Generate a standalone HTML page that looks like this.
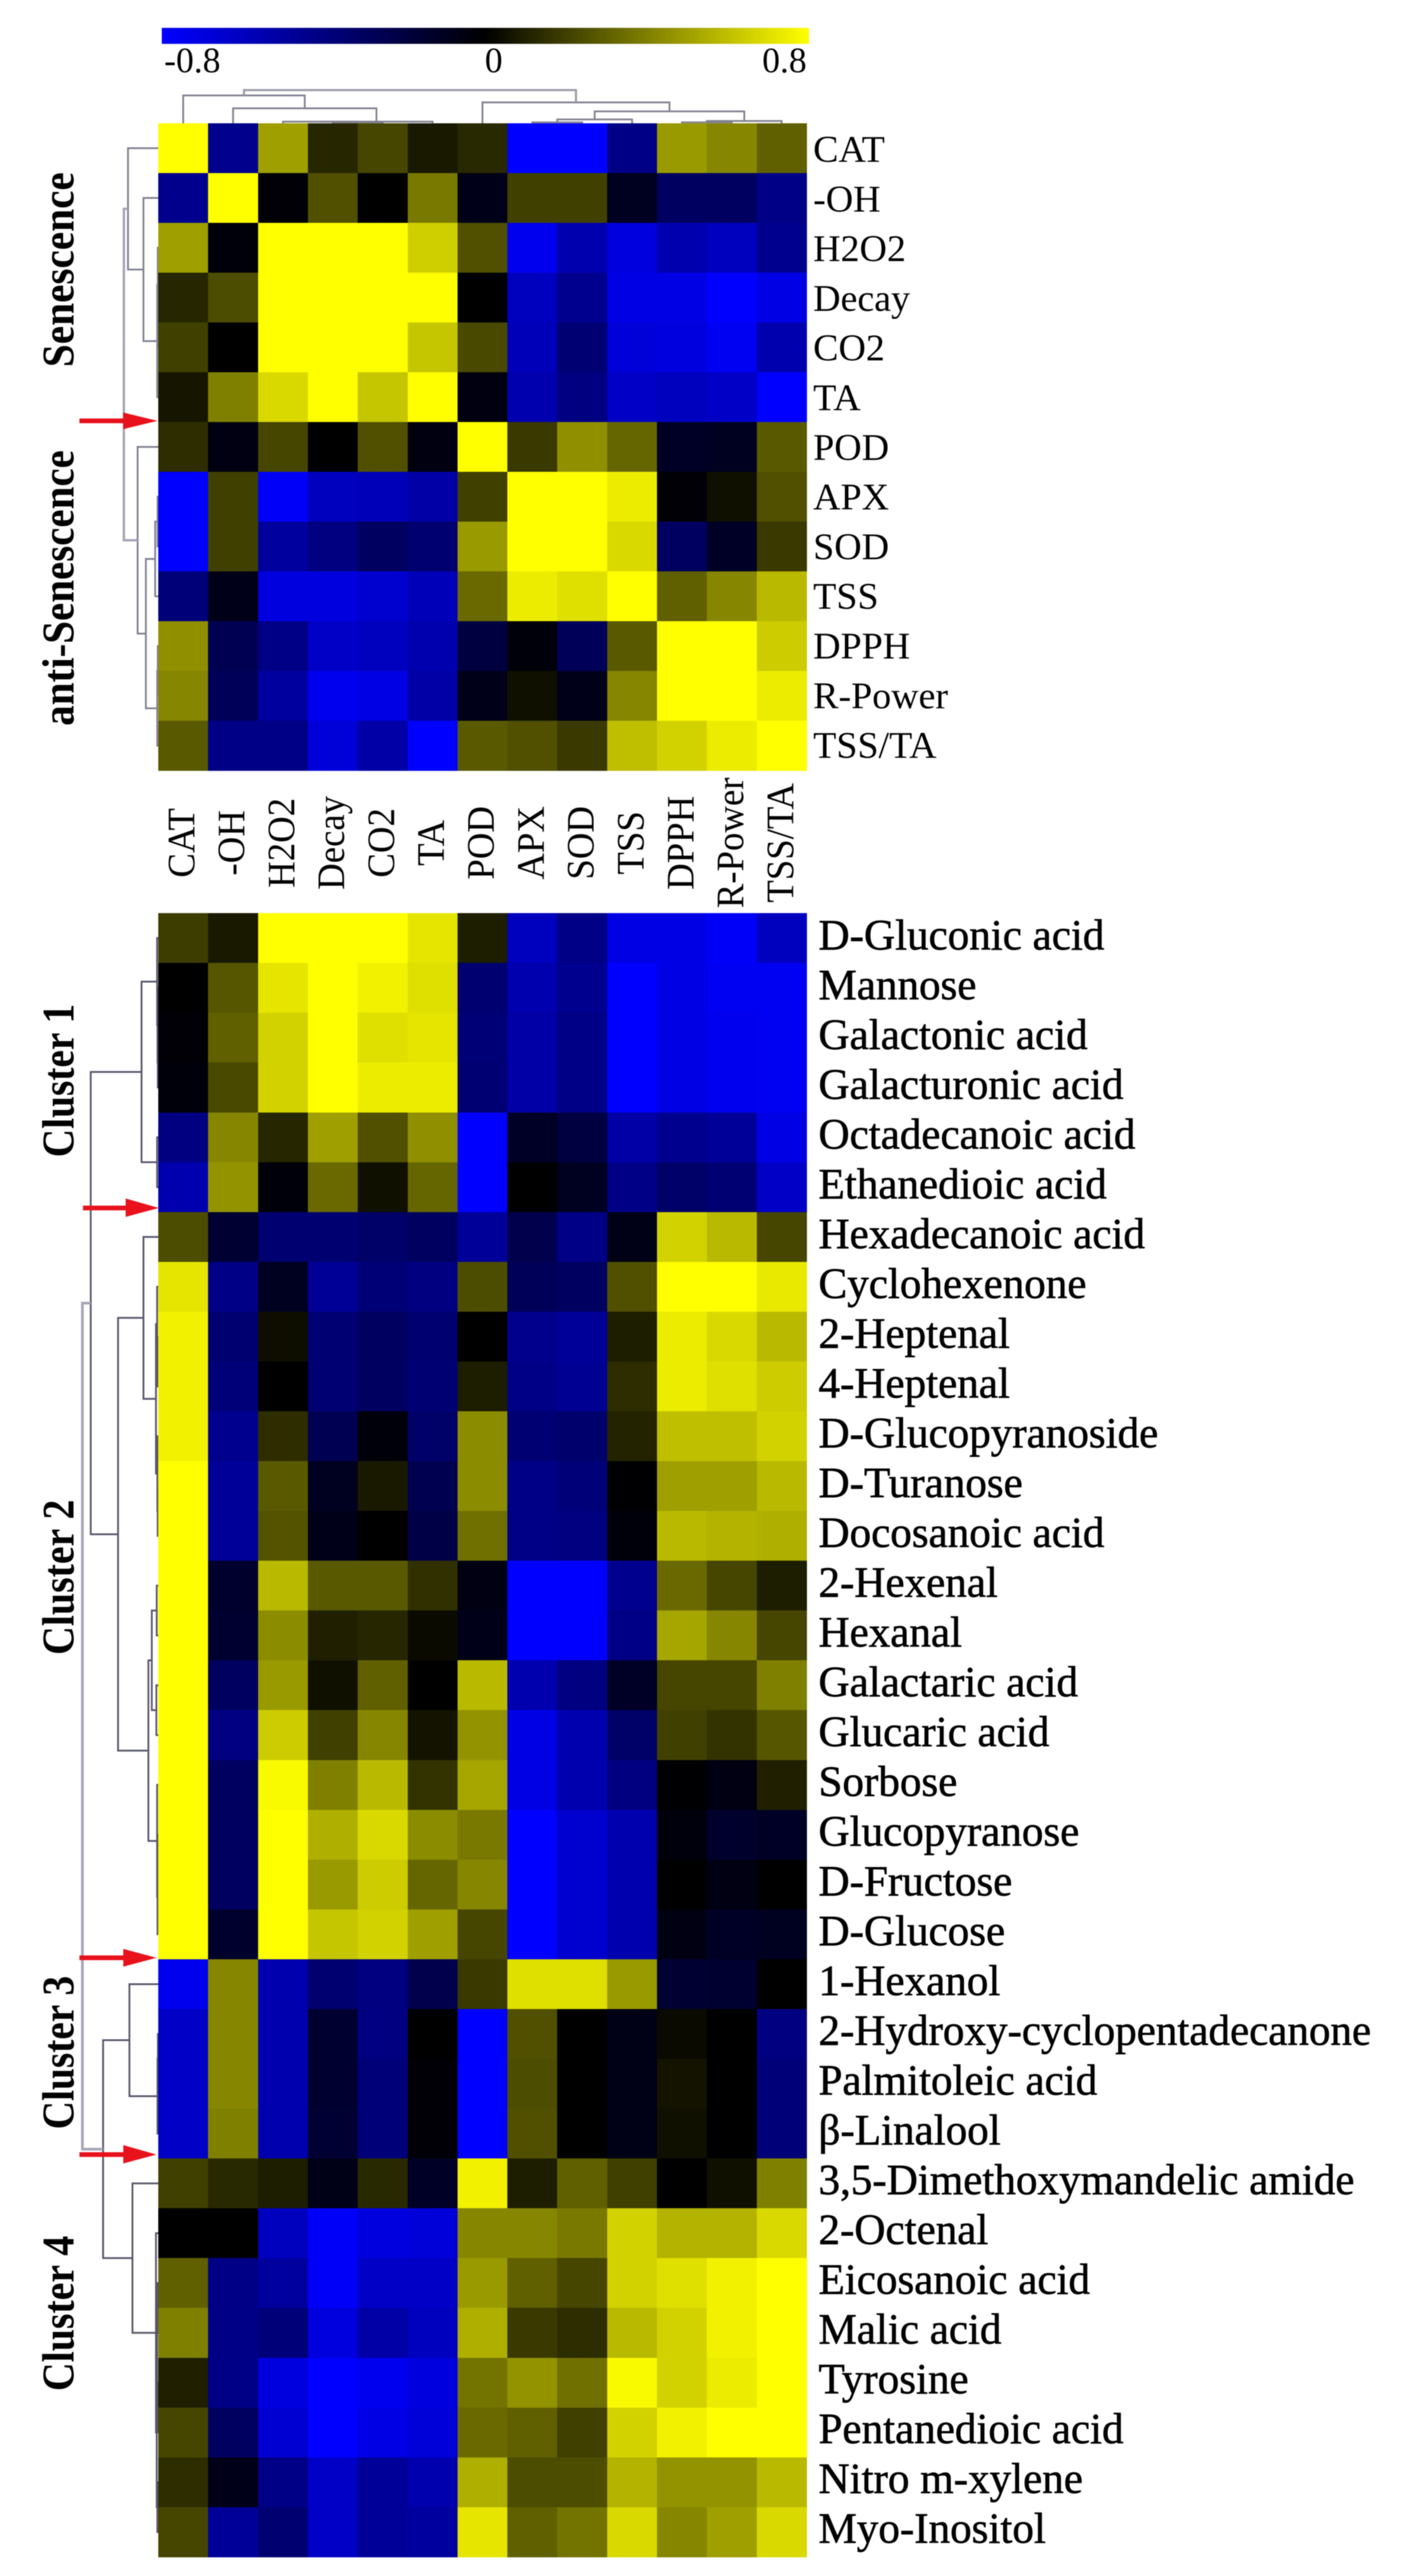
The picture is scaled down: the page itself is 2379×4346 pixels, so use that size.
<!DOCTYPE html>
<html lang="en">
<head>
<meta charset="utf-8">
<title>Correlation heatmaps</title>
<style>
html,body{margin:0;padding:0;background:#fff;}
#chart{display:block;width:2379px;height:4346px;filter:blur(0.9px);}
text{font-family:"Liberation Serif","DejaVu Serif",serif;fill:#000;}
</style>
</head>
<body>
<svg id="chart" xmlns="http://www.w3.org/2000/svg" width="2379" height="4346" viewBox="0 0 2379 4346">
  <defs>
    <linearGradient id="cbar" x1="0" x2="1" y1="0" y2="0">
      <stop offset="0" stop-color="#0000ff"/>
      <stop offset="0.5" stop-color="#000000"/>
      <stop offset="1" stop-color="#ffff00"/>
    </linearGradient>
  </defs>
  <rect width="2379" height="4346" fill="#fff"/>
  <rect x="273" y="47" width="1092" height="27" fill="url(#cbar)"/>
  <g id="cbar-labels" font-size="60"></g>
  <g id="top-col-tree"></g>
  <g id="top-row-tree"></g>
  <g id="low-row-tree"></g>
  <g id="top-cells"></g>
  <g id="low-cells"></g>
  <g id="top-row-labels" font-size="64"></g>
  <g id="col-labels" font-size="66"></g>
  <g id="low-row-labels" font-size="72.7" stroke="#000" stroke-width="0.9"></g>

  <g font-weight="bold" font-size="76">
    <text text-anchor="middle" lengthAdjust="spacingAndGlyphs" textLength="329" transform="translate(124 455) rotate(-90)">Senescence</text>
    <text text-anchor="middle" lengthAdjust="spacingAndGlyphs" textLength="465" transform="translate(124 992) rotate(-90)">anti-Senescence</text>
    <text text-anchor="middle" lengthAdjust="spacingAndGlyphs" textLength="259" transform="translate(124 1823) rotate(-90)">Cluster 1</text>
    <text text-anchor="middle" lengthAdjust="spacingAndGlyphs" textLength="262" transform="translate(124 2661) rotate(-90)">Cluster 2</text>
    <text text-anchor="middle" lengthAdjust="spacingAndGlyphs" textLength="259" transform="translate(124 3463) rotate(-90)">Cluster 3</text>
    <text text-anchor="middle" lengthAdjust="spacingAndGlyphs" textLength="262" transform="translate(124 3903) rotate(-90)">Cluster 4</text>
  </g>

  <g fill="#e8121c">
    <rect x="134" y="706" width="76" height="8"/><polygon points="208,696 266,710 208,724"/>
  </g>
  <g fill="#e8121c">
    <rect x="140" y="2034" width="74" height="8"/><polygon points="212,2022 268,2038 212,2053"/>
  </g>
  <g fill="#e8121c">
    <rect x="134" y="3299" width="76" height="8"/><polygon points="208,3288 264,3303 208,3318"/>
  </g>
  <g fill="#e8121c">
    <rect x="134" y="3631" width="76" height="8"/><polygon points="208,3619 264,3635 208,3650"/>
  </g>
</svg>

<script>
var scaleTicks = ["-0.8", "0", "0.8"];
var scaleTickValues = [-0.8, 0, 0.8];

var traits = ["CAT","-OH","H2O2","Decay","CO2","TA","POD","APX","SOD","TSS","DPPH","R-Power","TSS/TA"];

var compounds = ["D-Gluconic acid","Mannose","Galactonic acid","Galacturonic acid","Octadecanoic acid","Ethanedioic acid","Hexadecanoic acid","Cyclohexenone","2-Heptenal","4-Heptenal","D-Glucopyranoside","D-Turanose","Docosanoic acid","2-Hexenal","Hexanal","Galactaric acid","Glucaric acid","Sorbose","Glucopyranose","D-Fructose","D-Glucose","1-Hexanol","2-Hydroxy-cyclopentadecanone","Palmitoleic acid","β-Linalool","3,5-Dimethoxymandelic amide","2-Octenal","Eicosanoic acid","Malic acid","Tyrosine","Pentanedioic acid","Nitro m-xylene","Myo-Inositol"];

var topValues = [
[1,-.44,.50,.12,.22,.08,.13,-.8,-.8,-.42,.48,.42,.30],
[-.44,1,-.02,.25,0,.38,-.08,.2,.2,-.1,-.3,-.3,-.42],
[.5,-.03,1,1,1,.65,.25,-.75,-.55,-.7,-.55,-.6,-.45],
[.12,.24,1,1,1,1,0,-.6,-.45,-.72,-.72,-.8,-.72],
[.2,0,1,1,1,.62,.23,-.58,-.36,-.68,-.7,-.76,-.55],
[.07,.4,.68,1,.62,1,-.05,-.55,-.4,-.62,-.6,-.62,-.8],
[.14,-.06,.22,0,.25,-.05,1,.18,.45,.32,-.12,-.1,.28],
[-.8,.2,-.78,-.6,-.58,-.52,.2,1,1,.74,-.02,.05,.25],
[-.8,.2,-.5,-.4,-.3,-.35,.48,1,1,.68,-.3,-.12,.18],
[-.38,-.08,-.7,-.7,-.65,-.58,.33,.74,.7,1,.3,.42,.58],
[.45,-.26,-.42,-.62,-.6,-.55,-.2,-.03,-.28,.28,1,1,.64],
[.42,-.28,-.5,-.75,-.72,-.52,-.08,.05,-.08,.42,1,1,.74],
[.28,-.42,-.42,-.68,-.52,-.8,.28,.25,.18,.6,.66,.74,1]
];

var lowerValues = [
[.19,.08,.8,.8,.8,.72,.09,-.6,-.42,-.72,-.72,-.78,-.6],
[0,.27,.72,.8,.76,.7,-.35,-.55,-.45,-.8,-.72,-.76,-.76],
[-.02,.3,.66,.8,.7,.72,-.37,-.52,-.42,-.8,-.72,-.75,-.76],
[-.03,.23,.66,.8,.74,.74,-.36,-.52,-.42,-.8,-.72,-.75,-.76],
[-.4,.42,.12,.5,.25,.45,-.8,-.12,-.2,-.52,-.45,-.48,-.72],
[-.55,.46,-.03,.33,.05,.32,-.8,0,-.1,-.42,-.33,-.36,-.62],
[.24,-.16,-.35,-.35,-.33,-.3,-.48,-.24,-.42,-.07,.66,.58,.22],
[.72,-.42,-.1,-.47,-.37,-.4,.24,-.28,-.3,.25,.8,.8,.73],
[.76,-.35,.04,-.36,-.3,-.35,0,-.44,-.48,.09,.74,.68,.58],
[.76,-.38,0,-.36,-.3,-.36,.09,-.42,-.46,.14,.74,.7,.64],
[.76,-.45,.14,-.26,-.03,-.33,.44,-.36,-.34,.11,.6,.6,.66],
[.8,-.48,.28,-.1,.08,-.25,.44,-.42,-.38,-.01,.5,.5,.58],
[.8,-.48,.26,-.08,0,-.22,.35,-.42,-.4,-.03,.58,.56,.55],
[.8,-.14,.58,.28,.28,.15,-.06,-.8,-.8,-.45,.33,.22,.09],
[.8,-.15,.44,.1,.12,.03,-.08,-.8,-.8,-.42,.52,.42,.22],
[.8,-.3,.48,.05,.3,0,.58,-.55,-.4,-.12,.22,.22,.4],
[.8,-.4,.64,.2,.42,.06,.46,-.72,-.55,-.33,.2,.16,.27],
[.8,-.3,.78,.4,.58,.16,.52,-.72,-.55,-.4,-.01,-.06,.1],
[.8,-.3,.8,.55,.68,.44,.38,-.8,-.65,-.55,-.04,-.14,-.12],
[.8,-.3,.8,.48,.64,.32,.42,-.8,-.65,-.55,0,-.06,0],
[.8,-.14,.8,.62,.66,.5,.22,-.8,-.65,-.55,-.06,-.12,-.1],
[-.75,.42,-.55,-.35,-.4,-.24,.18,.7,.7,.48,-.16,-.15,0],
[-.62,.42,-.55,-.15,-.4,0,-.8,.25,0,-.07,.03,0,-.4],
[-.62,.42,-.55,-.15,-.38,-.02,-.8,.24,0,-.07,.06,0,-.38],
[-.62,.4,-.55,-.16,-.38,-.02,-.8,.25,0,-.07,.05,0,-.38],
[.2,.13,.09,-.07,.13,-.12,.76,.09,.3,.2,0,.05,.4],
[0,0,-.6,-.78,-.7,-.68,.42,.42,.38,.66,.56,.56,.68],
[.3,-.42,-.5,-.78,-.62,-.62,.48,.3,.22,.66,.7,.76,.8],
[.4,-.42,-.38,-.7,-.52,-.6,.55,.18,.14,.58,.66,.76,.8],
[.1,-.42,-.7,-.8,-.75,-.7,.36,.46,.35,.78,.66,.74,.8],
[.22,-.3,-.66,-.8,-.72,-.68,.33,.3,.2,.66,.76,.8,.8],
[.14,-.08,-.42,-.62,-.48,-.55,.55,.24,.24,.56,.46,.46,.58],
[.22,-.48,-.35,-.62,-.48,-.5,.72,.3,.36,.68,.42,.5,.68]
];

/* Dendrogram topology: child < 100 is a leaf index; child >= 100 refers to merge (child - 100). */
var topMerges = [[3,4],[2,100],[101,5],[1,102],[0,103],[7,8],[105,9],[10,11],[107,12],[106,108],[6,109],[104,110]];
var topRowDistances = [.01,.015,.03,.43,.88,.02,.09,.015,.03,.36,.6,1];
var topColDistances = [.03,.05,.05,.45,.84,.03,.115,.03,.07,.36,.63,1];

var lowerMerges = [[2,3],[1,100],[0,101],[4,5],[102,103],[8,9],[7,105],[11,12],[10,107],[106,108],[6,109],[13,14],[15,16],[111,112],[18,19],[114,20],[17,115],[113,116],[110,117],[104,118],[22,23],[120,24],[21,121],[27,28],[29,30],[123,124],[31,32],[125,126],[26,127],[25,128],[122,129],[119,130]];
var lowerDistances = [.006,.01,.015,.015,.22,.01,.015,.008,.012,.03,.195,.02,.025,.085,.006,.01,.015,.13,.53,.89,.005,.01,.38,.008,.008,.015,.012,.02,.03,.34,.727,1];

var NS = 'http://www.w3.org/2000/svg';
var HEAT_LEFT = 267, HEAT_RIGHT = 1361;
var TOP_Y0 = 208, LOW_Y0 = 1540.6, ROW_H_TOP = 84, ROW_H_LOW = 84.04;
var COL_W = (HEAT_RIGHT - HEAT_LEFT) / traits.length;

function colX(i) { return HEAT_LEFT + COL_W * i; }
function topRowY(i) { return TOP_Y0 + ROW_H_TOP * i; }
function lowRowY(i) { return LOW_Y0 + ROW_H_LOW * i; }
function valueColor(v) {
  var t = Math.max(-1, Math.min(1, v / 0.8));
  var l = Math.round(Math.abs(t) * 255);
  return t >= 0 ? 'rgb(' + l + ',' + l + ',0)' : 'rgb(0,0,' + l + ')';
}
function scaleX(v) { return 273 + (v + 0.8) / 1.6 * 1092; }
function treeTopCol(d) { return TOP_Y0 - 56 * d; }
function treeTopRow(d) { return HEAT_LEFT - 58 * d; }
function treeLowRow(d) { return HEAT_LEFT - 128 * d; }

function drawCells(groupId, matrix, rowY, rowH, prefix) {
  var g = document.getElementById(groupId);
  matrix.forEach(function (row, r) {
    row.forEach(function (v, c) {
      var el = document.createElementNS(NS, 'rect');
      el.setAttribute('x', colX(c));
      el.setAttribute('y', rowY(r));
      el.setAttribute('width', COL_W + 0.6);
      el.setAttribute('height', rowH + 0.6);
      el.setAttribute('fill', valueColor(v));
      el.setAttribute('shape-rendering', 'crispEdges');
      
      
      g.appendChild(el);
    });
  });
}

function drawTree(groupId, merges, distances, leafPos, distPos, horizontalRoots, name, stroke, width, rootStroke, rootWidth, rootCount) {
  var g = document.getElementById(groupId);
  var nodes = [];
  function posOf(child) { return child >= 100 ? nodes[child - 100].p : leafPos(child); }
  function depthOf(child) { return child >= 100 ? distPos(distances[child - 100]) : distPos(0); }
  merges.forEach(function (m, k) {
    var a = posOf(m[0]), b = posOf(m[1]);
    var da = depthOf(m[0]), db = depthOf(m[1]);
    var d = distPos(distances[k]);
    nodes.push({ p: (a + b) / 2 });
    var path = horizontalRoots
      ? 'M' + a + ' ' + da + 'V' + d + 'H' + b + 'V' + db
      : 'M' + da + ' ' + a + 'H' + d + 'V' + b + 'H' + db;
    var isRoot = k >= merges.length - rootCount;
    var el = document.createElementNS(NS, 'path');
    el.setAttribute('d', path);
    el.setAttribute('fill', 'none');
    el.setAttribute('stroke', isRoot ? rootStroke : stroke);
    el.setAttribute('stroke-width', isRoot ? rootWidth : width);
    
    
    g.appendChild(el);
  });
}

function addText(groupId, str, x, y, anchor, rotate, name) {
  var el = document.createElementNS(NS, 'text');
  el.textContent = str;
  if (rotate) {
    el.setAttribute('transform', 'translate(' + x + ' ' + y + ') rotate(-90) scale(0.94,1)');
  } else {
    el.setAttribute('x', x);
    el.setAttribute('y', y);
  }
  el.setAttribute('text-anchor', anchor);
  
  
  document.getElementById(groupId).appendChild(el);
}

drawTree('top-col-tree', topMerges, topColDistances, function (i) { return colX(i) + COL_W / 2; }, treeTopCol, true, 'top-column-dendrogram', '#80808f', 3, '#9a9aa8', 3.5, 1);
drawTree('top-row-tree', topMerges, topRowDistances, function (i) { return topRowY(i) + ROW_H_TOP / 2; }, treeTopRow, false, 'top-row-dendrogram', '#80808f', 3, '#a5a5b5', 4, 1);
drawTree('low-row-tree', lowerMerges, lowerDistances, function (i) { return lowRowY(i) + ROW_H_LOW / 2; }, treeLowRow, false, 'lower-row-dendrogram', '#55556a', 3, '#a5a5b5', 4.5, 1);

drawCells('top-cells', topValues, topRowY, ROW_H_TOP, 'top-heatmap');
drawCells('low-cells', lowerValues, lowRowY, ROW_H_LOW, 'lower-heatmap');

scaleTicks.forEach(function (t, i) {
  var v = scaleTickValues[i];
  var x = i === 0 ? scaleX(v) + 4 : (i === 2 ? scaleX(v) - 4 : scaleX(v) + 14);
  addText('cbar-labels', t, x, 122, i === 0 ? 'start' : (i === 2 ? 'end' : 'middle'), false, 'color-scale-tick');
});

traits.forEach(function (t, i) {
  addText('top-row-labels', t, 1372, 273 + 83.8 * i, 'start', false, 'top-row-label');
  addText('col-labels', t, 328 + 84.2 * i, 1422, 'middle', true, 'column-label');
});

compounds.forEach(function (t, i) {
  addText('low-row-labels', t, 1381, 1602 + 84 * i, 'start', false, 'compound-label');
});
</script>
</body>
</html>
